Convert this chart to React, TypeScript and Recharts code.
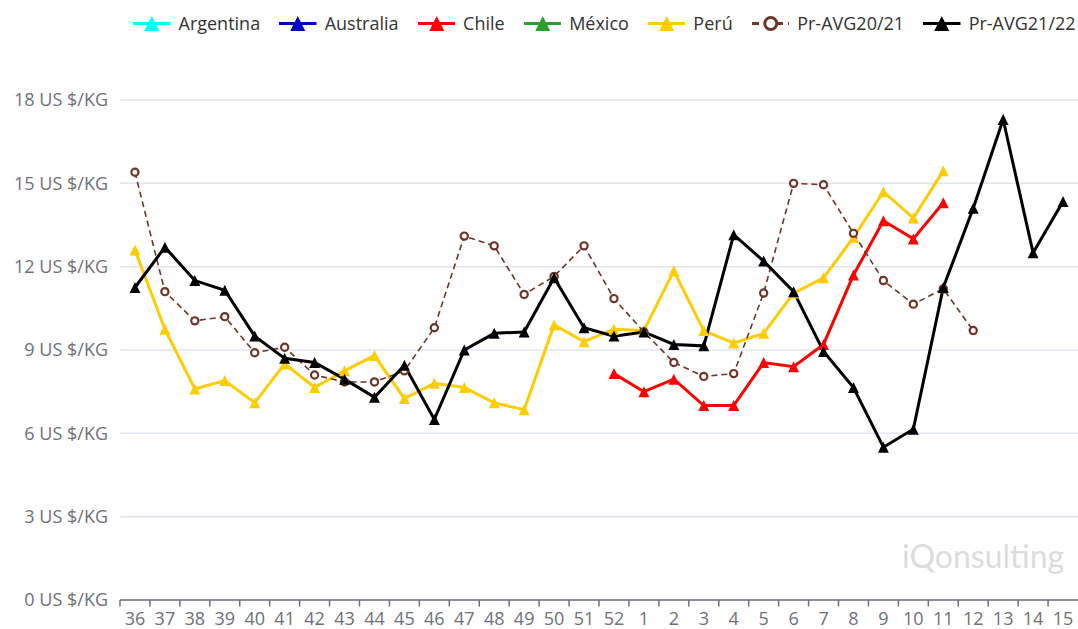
import React from "react";
import { LineChart, Line, XAxis, YAxis, CartesianGrid } from "recharts";

// ---------------------- DATA ----------------------
const weeks = [
  "36", "37", "38", "39", "40", "41", "42", "43", "44", "45", "46", "47", "48", "49", "50", "51", "52",
  "1", "2", "3", "4", "5", "6", "7", "8", "9", "10", "11", "12", "13", "14", "15",
];

const argentina: (number | null)[] = [];
const australia: (number | null)[] = [];
const mexico: (number | null)[] = [];

const chile: (number | null)[] = [
  null, null, null, null, null, null, null, null, null, null, null, null, null, null, null, null,
  8.15, 7.5, 7.95, 7.0, 7.0, 8.55, 8.4, 9.2, 11.7, 13.65, 13.0, 14.3, null, null, null, null,
];

const peru: (number | null)[] = [
  12.6, 9.75, 7.6, 7.9, 7.1, 8.5, 7.65, 8.25, 8.8, 7.25, 7.8, 7.65, 7.1, 6.85, 9.9, 9.3, 9.75,
  9.7, 11.85, 9.7, 9.25, 9.6, 11.05, 11.6, 13.05, 14.7, 13.75, 15.45, null, null, null, null,
];

const prAvg2021: (number | null)[] = [
  15.4, 11.1, 10.05, 10.2, 8.9, 9.1, 8.1, 7.85, 7.85, 8.25, 9.8, 13.1, 12.75, 11.0, 11.65, 12.75, 10.85,
  9.65, 8.55, 8.05, 8.15, 11.05, 15.0, 14.95, 13.2, 11.5, 10.65, 11.2, 9.7, null, null, null,
];

const prAvg2122: (number | null)[] = [
  11.25, 12.7, 11.5, 11.15, 9.5, 8.7, 8.55, 7.95, 7.3, 8.45, 6.5, 9.0, 9.6, 9.65, 11.6, 9.8, 9.5,
  9.65, 9.2, 9.15, 13.15, 12.2, 11.1, 8.95, 7.65, 5.5, 6.15, 11.25, 14.1, 17.3, 12.5, 14.35,
];

const yTicks = [0, 3, 6, 9, 12, 15, 18];

const series = [
  { key: "argentina", name: "Argentina", color: "#00FFFF", values: argentina, dashed: false },
  { key: "australia", name: "Australia", color: "#0000C0", values: australia, dashed: false },
  { key: "chile", name: "Chile", color: "#FF0000", values: chile, dashed: false },
  { key: "mexico", name: "México", color: "#2CA02C", values: mexico, dashed: false },
  { key: "peru", name: "Perú", color: "#FFCC00", values: peru, dashed: false },
  { key: "pr2021", name: "Pr-AVG20/21", color: "#6E3526", values: prAvg2021, dashed: true },
  { key: "pr2122", name: "Pr-AVG21/22", color: "#000000", values: prAvg2122, dashed: false },
];

const rows = weeks.map((w, i) => {
  const row: Record<string, string | number | null> = { week: w };
  series.forEach((s) => {
    row[s.key] = s.values[i] ?? null;
  });
  return row;
});

// ---------------------- LAYOUT ----------------------
const W = 1078;
const H = 629;
const PLOT_LEFT = 120;
const BAND = (W - PLOT_LEFT) / weeks.length;
const AXIS_COLOR = "#6E7079";
const FONT = "'Open Sans', 'Noto Sans', sans-serif";

const triangle = (cx: number, cy: number, s: number) =>
  `M${cx},${cy - s / 2}L${cx + s / 2},${cy + s / 2}L${cx - s / 2},${cy + s / 2}Z`;

const triangleDot = (color: string) => (props: any) => {
  const { cx, cy, index } = props;
  if (cx == null || cy == null) return <g key={index} />;
  return <path key={index} d={triangle(cx, cy, 11)} fill={color} />;
};

const circleDot = (color: string) => (props: any) => {
  const { cx, cy, index } = props;
  if (cx == null || cy == null) return <g key={index} />;
  return <circle key={index} cx={cx} cy={cy} r={3.6} fill="#fff" stroke={color} strokeWidth={2.2} />;
};

const XTick = (props: any) => {
  const { x, y, payload } = props;
  return (
    <g>
      <line x1={x - BAND / 2} x2={x - BAND / 2} y1={y} y2={y + 6.5} stroke={AXIS_COLOR} strokeWidth={1.5} />
      <text x={x} y={y + 25} textAnchor="middle" fill={AXIS_COLOR} fontSize={18} fontFamily={FONT}>
        {payload.value}
      </text>
    </g>
  );
};

function LegendIcon({ color, dashed }: { color: string; dashed: boolean }) {
  return (
    <svg width={37.5} height={21} style={{ display: "block" }}>
      {dashed ? (
        <>
          <line x1={0} x2={37.5} y1={10.5} y2={10.5} stroke={color} strokeWidth={3} strokeDasharray="7 5" />
          <circle cx={18.75} cy={10.5} r={6} fill="#fff" stroke={color} strokeWidth={3} />
        </>
      ) : (
        <>
          <line x1={0} x2={37.5} y1={10.5} y2={10.5} stroke={color} strokeWidth={3} />
          <path d={triangle(18.75, 10.5, 15)} fill={color} />
        </>
      )}
    </svg>
  );
}

export default function App() {
  return (
    <div style={{ position: "absolute", left: 0, top: 0, width: W, height: H, background: "#fff", fontFamily: FONT }}>
      <div
        style={{
          position: "absolute",
          left: 133,
          top: 11,
          display: "flex",
          alignItems: "center",
          gap: 19,
          fontSize: 18,
          color: "#333",
          whiteSpace: "nowrap",
        }}
      >
        {series.map((s) => (
          <div key={s.key} style={{ display: "flex", alignItems: "center", gap: 8 }}>
            <LegendIcon color={s.color} dashed={s.dashed} />
            <span>{s.name}</span>
          </div>
        ))}
      </div>

      <LineChart width={W} height={H} data={rows} margin={{ top: 100, right: 0, bottom: 0, left: 0 }}>
        <CartesianGrid vertical={false} stroke="#E0E6F1" strokeWidth={1.5} />
        <XAxis
          dataKey="week"
          height={29}
          interval={0}
          padding={{ left: BAND / 2, right: BAND / 2 }}
          axisLine={{ stroke: AXIS_COLOR, strokeWidth: 1.5 }}
          tickLine={false}
          tickSize={0}
          tickMargin={0}
          tick={<XTick />}
        />
        <YAxis
          width={PLOT_LEFT}
          domain={[0, 18]}
          ticks={yTicks}
          axisLine={false}
          tickLine={false}
          tickSize={0}
          tickMargin={12}
          tickFormatter={(v: number) => `${v} US $/KG`}
          tick={{ fill: AXIS_COLOR, fontSize: 18, fontFamily: FONT }}
        />
        {series.map((s) => (
          <Line
            key={s.key}
            dataKey={s.key}
            name={s.name}
            stroke={s.color}
            strokeWidth={s.dashed ? 1.6 : 3}
            strokeDasharray={s.dashed ? "6 4" : undefined}
            dot={s.dashed ? circleDot(s.color) : triangleDot(s.color)}
            activeDot={false}
            isAnimationActive={false}
          />
        ))}
      </LineChart>

      <div
        style={{
          position: "absolute",
          left: 902,
          top: 536,
          fontSize: 32,
          fontFamily: "Lato, sans-serif",
          fontWeight: 400,
          color: "#DCDCDC",
          whiteSpace: "nowrap",
        }}
      >
        iQonsulting
      </div>
    </div>
  );
}
